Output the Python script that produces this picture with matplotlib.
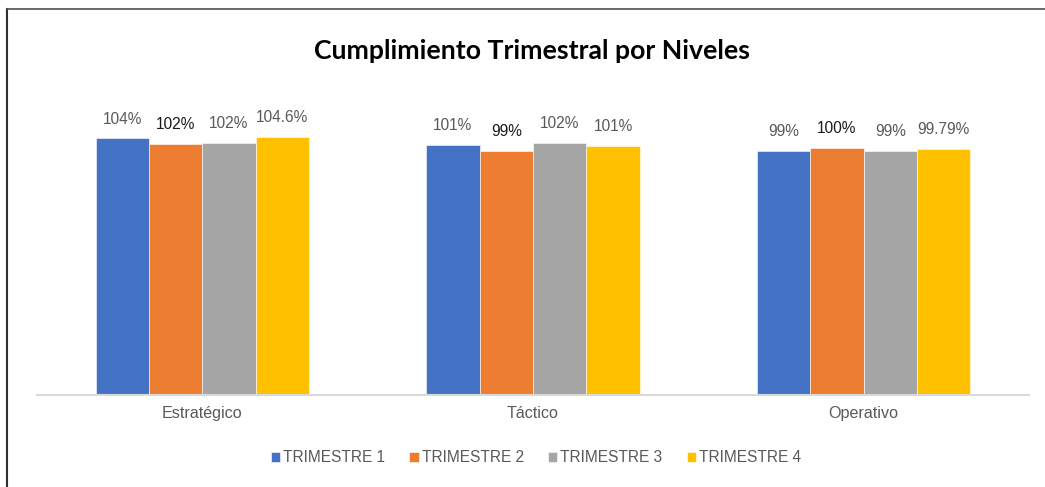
import matplotlib
matplotlib.use("Agg")
import matplotlib.pyplot as plt
from matplotlib.lines import Line2D
import numpy as np

categories = ["Estratégico", "Táctico", "Operativo"]
series_names = ["TRIMESTRE 1", "TRIMESTRE 2", "TRIMESTRE 3", "TRIMESTRE 4"]
t1 = [1.040, 1.014, 0.990]
t2 = [1.018, 0.990, 1.000]
t3 = [1.022, 1.022, 0.990]
t4 = [1.046, 1.010, 0.9979]
labels_t1 = ["104%", "101%", "99%"]
labels_t2 = ["102%", "99%", "100%"]
labels_t3 = ["102%", "102%", "99%"]
labels_t4 = ["104.6%", "101%", "99.79%"]
colors = ["#4472C4", "#ED7D31", "#A5A5A5", "#FFC000"]
label_colors = ["#595959", "#1a1a1a", "#595959", "#595959"]
title = "Cumplimiento Trimestral por Niveles"

W, H = 1045, 487
fig = plt.figure(figsize=(W / 100, H / 100), dpi=100)
fig.patch.set_facecolor("white")

ax = fig.add_axes([37 / W, 1 - 395 / H, (1029 - 37) / W, (395 - 99) / H])
ax.set_xlim(-0.5, 2.5)
ax.set_ylim(0, 1.2)

x = np.arange(len(categories))
bw = 0.1615
all_vals = [t1, t2, t3, t4]
all_labels = [labels_t1, labels_t2, labels_t3, labels_t4]
handles = []
for i, (vals, labs) in enumerate(zip(all_vals, all_labels)):
    pos = x + (i - 1.5) * bw
    b = ax.bar(pos, vals, width=bw, color=colors[i], label=series_names[i],
               edgecolor="white", linewidth=0.4, zorder=2)
    handles.append(b)
    for p, v, t in zip(pos, vals, labs):
        ax.annotate(t, (p, v), xytext=(0, 14), textcoords="offset points",
                    ha="center", va="center", fontsize=11.2,
                    family="Liberation Sans", color=label_colors[i])

for s in ["top", "right", "left"]:
    ax.spines[s].set_visible(False)
ax.spines["bottom"].set_color("#d9d9d9")
ax.spines["bottom"].set_linewidth(1.5)
ax.set_yticks([])
ax.set_xticks(x)
ax.set_xticklabels(categories, fontsize=11.6, family="Liberation Sans", color="#595959")
ax.tick_params(axis="x", length=0, pad=8)

fig.text(532 / W, 1 - 51 / H, title, ha="center", va="center",
         fontsize=19.2, fontweight="bold", family="Lato", color="black")

leg = fig.legend(handles=handles, labels=series_names, loc="center",
                 bbox_to_anchor=(536 / W, 1 - 458 / H), ncol=4, frameon=False,
                 prop={"family": "Liberation Sans", "size": 11.2},
                 handlelength=0.6, handleheight=0.6, handletextpad=0.2,
                 columnspacing=1.55)
for t in leg.get_texts():
    t.set_color("#595959")

fig.add_artist(Line2D([6.5 / W, 6.5 / W], [0, 1 - 9 / H], transform=fig.transFigure,
                      color="#303030", linewidth=1.5))
fig.add_artist(Line2D([6.5 / W, 1], [1 - 9 / H, 1 - 9 / H], transform=fig.transFigure,
                      color="#505050", linewidth=1.2))

fig.savefig("out.png", dpi=100)
